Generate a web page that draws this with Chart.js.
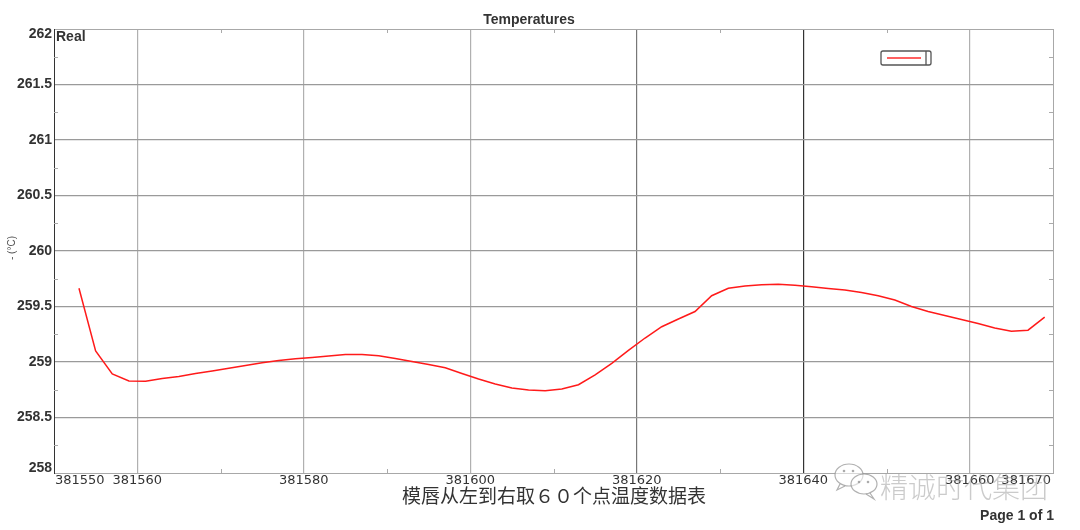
<!DOCTYPE html>
<html>
<head>
<meta charset="utf-8">
<script src="https://cdn.jsdelivr.net/npm/chart.js@4"></script>
<style>
  body { margin: 0; background: #fff; }
  canvas { display: block; }
</style>
</head>
<body>
<canvas id="temp-chart" width="1080" height="530"></canvas>
<script>
// positions along the die lip, sampled every 2 units
const positions = [
  381553, 381555, 381557, 381559, 381561, 381563, 381565, 381567, 381569, 381571,
  381573, 381575, 381577, 381579, 381581, 381583, 381585, 381587, 381589, 381591,
  381593, 381595, 381597, 381599, 381601, 381603, 381605, 381607, 381609, 381611,
  381613, 381615, 381617, 381619, 381621, 381623, 381625, 381627, 381629, 381631,
  381633, 381635, 381637, 381639, 381641, 381643, 381645, 381647, 381649, 381651,
  381653, 381655, 381657, 381659, 381661, 381663, 381665, 381667, 381669,
];
const temperatures = [
  259.664, 259.099, 258.892, 258.829, 258.826, 258.851, 258.869, 258.896, 258.919, 258.944,
  258.968, 258.994, 259.014, 259.029, 259.041, 259.054, 259.068, 259.067, 259.056, 259.032,
  259.005, 258.977, 258.948, 258.896, 258.847, 258.802, 258.766, 258.748, 258.741, 258.757,
  258.795, 258.883, 258.988, 259.104, 259.216, 259.318, 259.387, 259.455, 259.597, 259.664,
  259.685, 259.695, 259.700, 259.691, 259.677, 259.662, 259.649, 259.626, 259.596, 259.559,
  259.500, 259.455, 259.419, 259.383, 259.347, 259.306, 259.277, 259.287, 259.405,
];
const xTickLabels = [381550, 381560, 381580, 381600, 381620, 381640, 381660, 381670];
const yTickLabels = [258, 258.5, 259, 259.5, 260, 260.5, 261, 261.5, 262];

const chartTitle = 'Temperatures';
const seriesName = 'Real';
const yTitle = '- (°C)';
const caption = '模唇从左到右取６０个点温度数据表';
const watermark = '精诚时代集团';
const pageLabel = 'Page 1 of 1';

const X_MIN = 381550;
const X_MAX = 381670;

const decorations = {
  id: 'decorations',
  afterDraw(chart) {
    const { ctx, chartArea: a, scales } = chart;
    const xs = scales.x;
    const ys = scales.y;
    ctx.save();

    // frame
    ctx.lineWidth = 1;
    ctx.strokeStyle = '#a8a8a8';
    ctx.strokeRect(a.left + 0.5, a.top + 0.5, a.right - a.left, a.bottom - a.top);
    ctx.strokeStyle = '#333';
    ctx.beginPath();
    ctx.moveTo(a.left + 0.5, a.top);
    ctx.lineTo(a.left + 0.5, a.bottom + 1);
    ctx.stroke();

    // minor ticks
    ctx.strokeStyle = '#aaa';
    ctx.beginPath();
    for (let v = X_MIN + 20; v < X_MAX; v += 20) {
      const px = Math.round(xs.getPixelForValue(v)) + 0.5;
      ctx.moveTo(px, a.bottom); ctx.lineTo(px, a.bottom - 4);
      ctx.moveTo(px, a.top); ctx.lineTo(px, a.top + 4);
    }
    for (let v = 258.25; v < 262; v += 0.5) {
      const py = Math.round(ys.getPixelForValue(v)) + 0.5;
      ctx.moveTo(a.left, py); ctx.lineTo(a.left + 4, py);
      ctx.moveTo(a.right, py); ctx.lineTo(a.right - 4, py);
    }
    ctx.stroke();

    // y tick labels
    ctx.fillStyle = '#333';
    ctx.font = 'bold 14px "Liberation Sans", Arial, sans-serif';
    ctx.textAlign = 'right';
    ctx.textBaseline = 'middle';
    yTickLabels.forEach((v) => {
      let py = ys.getPixelForValue(v);
      py = Math.min(Math.max(py, a.top + 5), a.bottom - 5);
      ctx.fillText(String(v), a.left - 2, py);
    });

    // x tick labels
    ctx.font = '13px "DejaVu Sans", sans-serif';
    ctx.textBaseline = 'middle';
    xTickLabels.forEach((v, i) => {
      const px = xs.getPixelForValue(v);
      if (i === 0) {
        ctx.textAlign = 'left';
        ctx.fillText(String(v), px + 1, a.bottom + 8);
      } else if (i === xTickLabels.length - 1) {
        ctx.textAlign = 'right';
        ctx.fillText(String(v), px - 2, a.bottom + 8);
      } else {
        ctx.textAlign = 'center';
        ctx.fillText(String(v), px, a.bottom + 8);
      }
    });

    // title + series name
    ctx.fillStyle = '#333';
    ctx.font = 'bold 14px "Liberation Sans", Arial, sans-serif';
    ctx.textAlign = 'center';
    ctx.textBaseline = 'alphabetic';
    ctx.fillText(chartTitle, 529, 24);
    ctx.textAlign = 'left';
    ctx.fillText(seriesName, a.left + 2, a.top + 12);

    // y title
    ctx.save();
    ctx.translate(12, 248);
    ctx.rotate(-Math.PI / 2);
    ctx.font = '10px "Liberation Sans", Arial, sans-serif';
    ctx.fillStyle = '#555';
    ctx.textAlign = 'center';
    ctx.textBaseline = 'middle';
    ctx.fillText(yTitle, 0, 0);
    ctx.restore();

    // legend box
    ctx.lineWidth = 1.3;
    ctx.strokeStyle = '#555';
    ctx.beginPath();
    ctx.roundRect(881, 51, 50, 14, 2);
    ctx.stroke();
    ctx.beginPath();
    ctx.moveTo(926, 51); ctx.lineTo(926, 65);
    ctx.stroke();
    ctx.strokeStyle = '#ff2b2b';
    ctx.lineWidth = 1.5;
    ctx.beginPath();
    ctx.moveTo(887, 58); ctx.lineTo(921, 58);
    ctx.stroke();

    // caption
    ctx.fillStyle = '#333';
    ctx.font = '19px "Noto Sans CJK SC", sans-serif';
    ctx.textAlign = 'center';
    ctx.textBaseline = 'alphabetic';
    ctx.fillText(caption, 554, 503);

    // page label
    ctx.font = 'bold 14px "Liberation Sans", Arial, sans-serif';
    ctx.textAlign = 'right';
    ctx.fillText(pageLabel, 1054, 520);

    // watermark
    ctx.strokeStyle = 'rgba(150,150,150,0.75)';
    ctx.fillStyle = 'rgba(255,255,255,0.55)';
    ctx.lineWidth = 1.2;
    ctx.beginPath();
    ctx.ellipse(849, 475, 14, 11, 0, 0, Math.PI * 2);
    ctx.fill(); ctx.stroke();
    ctx.beginPath();
    ctx.moveTo(840, 484); ctx.lineTo(837, 490); ctx.lineTo(845, 486);
    ctx.stroke();
    ctx.beginPath();
    ctx.ellipse(864, 484, 13, 10, 0, 0, Math.PI * 2);
    ctx.fill(); ctx.stroke();
    ctx.beginPath();
    ctx.moveTo(870, 493); ctx.lineTo(874, 499); ctx.lineTo(866, 494);
    ctx.stroke();
    ctx.fillStyle = 'rgba(150,150,150,0.8)';
    [[844, 471], [853, 471], [859, 482], [868, 482]].forEach(([cx, cy]) => {
      ctx.beginPath();
      ctx.arc(cx, cy, 1.3, 0, Math.PI * 2);
      ctx.fill();
    });
    ctx.font = '300 28px "Noto Sans CJK SC", sans-serif';
    ctx.textAlign = 'left';
    ctx.fillStyle = 'rgba(160,160,160,0.55)';
    ctx.fillText(watermark, 880, 498);

    ctx.restore();
  },
};

const data = {
  datasets: [
    {
      label: seriesName,
      data: positions.map((x, i) => ({ x: x, y: temperatures[i] })),
      borderColor: '#ff1a1a',
      borderWidth: 1.5,
      pointRadius: 0,
      tension: 0,
      fill: false,
    },
  ],
};

const xGridColor = (ctx) => {
  const v = ctx.tick && ctx.tick.value;
  if (v === undefined || v <= X_MIN || v >= X_MAX || (v - 381560) % 20 !== 0) return 'rgba(0,0,0,0)';
  if (v === 381640) return '#333';
  if (v === 381620) return '#777';
  return '#b0b0b0';
};

const config = {
  type: 'line',
  data: data,
  options: {
    responsive: false,
    animation: false,
    layout: { padding: { top: 29, right: 27, left: 0, bottom: 0 } },
    plugins: {
      legend: { display: false },
      title: { display: false },
      tooltip: { enabled: false },
    },
    scales: {
      x: {
        type: 'linear',
        min: X_MIN,
        max: X_MAX,
        ticks: { display: false, stepSize: 10 },
        grid: { color: xGridColor, drawTicks: false, lineWidth: 1.2 },
        border: { display: false },
        afterFit: (scale) => { scale.height = 57; },
      },
      y: {
        min: 258,
        max: 262,
        ticks: { display: false, stepSize: 0.5 },
        grid: {
          color: (ctx) => {
            const v = ctx.tick && ctx.tick.value;
            return v === 258 || v === 262 ? 'rgba(0,0,0,0)' : '#9a9a9a';
          },
          drawTicks: false,
          lineWidth: 1.2,
        },
        border: { display: false },
        afterFit: (scale) => { scale.width = 54; },
      },
    },
  },
  plugins: [decorations],
};

new Chart(document.getElementById('temp-chart'), config);
</script>
</body>
</html>
